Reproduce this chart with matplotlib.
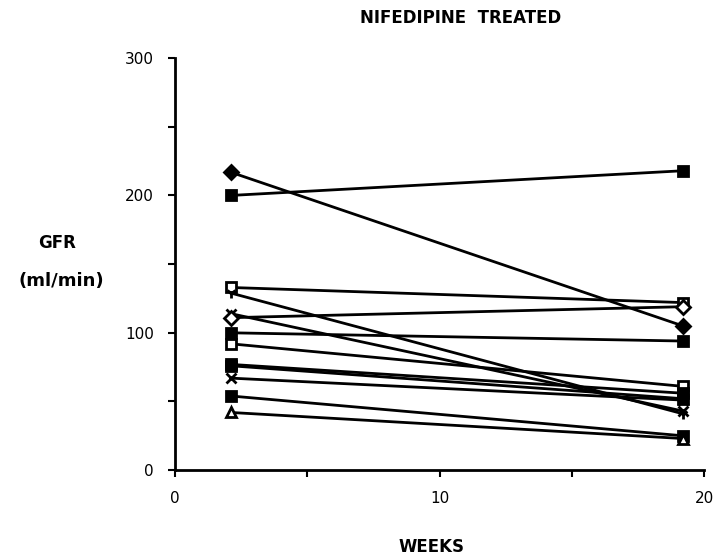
import matplotlib
matplotlib.use("Agg")
import matplotlib.pyplot as plt
from matplotlib.ticker import MultipleLocator

# weeks at which GFR was measured
weeks = [2.1, 19.2]

# GFR (ml/min) per patient: first and second measurement
gfr_start = [217, 200, 133, 129, 114, 111, 100, 92, 77, 76, 67, 54, 42]
gfr_end = [105, 218, 122, 41, 43, 119, 94, 61, 56, 52, 51, 25, 23]
markers = ["D", "s", "s", "1", "x", "D", "s", "s", "s", "s", "x", "s", "^"]
filled = [True, True, False, True, True, False, True, False, True, True, True, True, False]

fig = plt.figure(figsize=(7.17, 5.59), dpi=100)
ax = fig.add_axes([0.244, 0.159, 0.738, 0.737])

for y0, y1, m, f in zip(gfr_start, gfr_end, markers, filled):
    ax.plot(weeks, [y0, y1], color="black", lw=2, marker=m, ms=7.5,
            mec="black", mew=2, mfc="black" if f else "white")

ax.set_xlim(0, 20)
ax.set_ylim(0, 300)
ax.xaxis.set_major_locator(MultipleLocator(10))
ax.xaxis.set_minor_locator(MultipleLocator(5))
ax.yaxis.set_major_locator(MultipleLocator(100))
ax.yaxis.set_minor_locator(MultipleLocator(50))
ax.tick_params(which="both", direction="out", length=5, width=1.5,
               labelsize=11, pad=10)
for s in ["top", "right"]:
    ax.spines[s].set_visible(False)
for s in ["left", "bottom"]:
    ax.spines[s].set_linewidth(2)

fig.text(0.642, 0.967, "NIFEDIPINE  TREATED", ha="center", va="center",
         fontsize=12, fontweight="bold")
fig.text(0.602, 0.022, "WEEKS", ha="center", va="center",
         fontsize=12, fontweight="bold")
fig.text(0.08, 0.565, "GFR", ha="center", va="center",
         fontsize=12, fontweight="bold")
fig.text(0.085, 0.497, "(ml/min)", ha="center", va="center",
         fontsize=13, fontweight="bold")

fig.savefig("out.png", dpi=100)
